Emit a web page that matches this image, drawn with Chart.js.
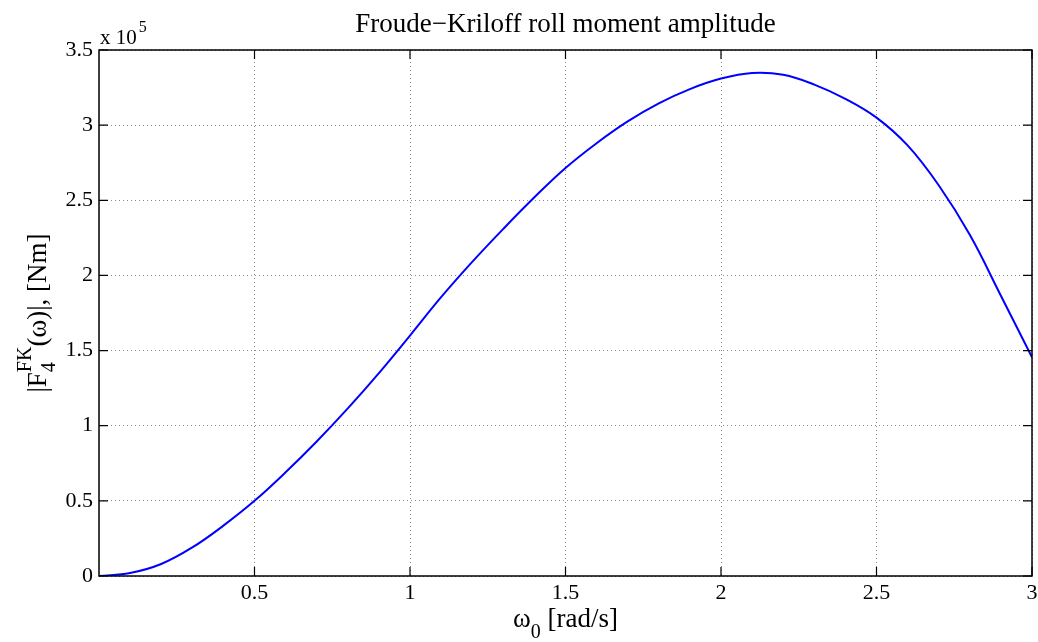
<!DOCTYPE html>
<html>
<head>
<meta charset="utf-8">
<title>Froude−Kriloff roll moment amplitude</title>
<script src="https://cdn.jsdelivr.net/npm/chart.js@4/dist/chart.umd.min.js"></script>
<style>
  html, body { margin: 0; padding: 0; background: #fff; }
  #wrap { width: 1038px; height: 642px; }
</style>
</head>
<body>
<div id="wrap"><canvas id="rollChart" width="1038" height="642"></canvas></div>
<script>
// wave frequency [rad/s]
const omega = [0, 0.1, 0.2, 0.3, 0.4, 0.5, 0.6, 0.7, 0.8, 0.9, 1.0,
  1.1, 1.2, 1.3, 1.4, 1.5, 1.6, 1.7, 1.8, 1.9, 2.0,
  2.1, 2.2, 2.3, 2.4, 2.5, 2.6, 2.7, 2.8, 2.9, 3.0];
// |F4^FK| in units of 1e5 Nm
const rollMoment = [0, 0.02, 0.08, 0.19, 0.335, 0.50, 0.69, 0.895, 1.115, 1.35, 1.60,
  1.855, 2.09, 2.31, 2.52, 2.715, 2.88, 3.025, 3.145, 3.24, 3.31,
  3.347, 3.335, 3.27, 3.175, 3.05, 2.865, 2.60, 2.27, 1.865, 1.455];
const xTicks = [0.5, 1, 1.5, 2, 2.5, 3];
const yTicks = [0, 0.5, 1, 1.5, 2, 2.5, 3, 3.5];
const yExponent = 5;

const serif = '"Liberation Serif", "DejaVu Serif", serif';

// box, inward ticks and all the labels in MATLAB style
const matlabFrame = {
  id: 'matlabFrame',
  afterDraw(chart) {
    const { ctx, chartArea: a, scales } = chart;
    const tl = 9;
    ctx.save();
    ctx.strokeStyle = '#000';
    ctx.lineWidth = 1.2;
    ctx.beginPath();
    xTicks.forEach(v => {
      const px = scales.x.getPixelForValue(v);
      ctx.moveTo(px, a.bottom); ctx.lineTo(px, a.bottom - tl);
      ctx.moveTo(px, a.top); ctx.lineTo(px, a.top + tl);
    });
    yTicks.forEach(v => {
      const py = scales.y.getPixelForValue(v);
      ctx.moveTo(a.left, py); ctx.lineTo(a.left + tl, py);
      ctx.moveTo(a.right, py); ctx.lineTo(a.right - tl, py);
    });
    ctx.stroke();
    ctx.lineWidth = 1.5;
    ctx.strokeRect(a.left, a.top, a.right - a.left, a.bottom - a.top);

    ctx.fillStyle = '#000';
    const cx = (a.left + a.right) / 2;

    // title
    ctx.font = '27px ' + serif;
    ctx.textAlign = 'center';
    ctx.textBaseline = 'alphabetic';
    ctx.fillText('Froude\u2212Kriloff roll moment amplitude', cx, a.top - 18);

    // exponent label
    ctx.textAlign = 'left';
    ctx.font = '21px ' + serif;
    ctx.fillText('x 10', a.left + 1, a.top - 6);
    const w10 = ctx.measureText('x 10').width;
    ctx.font = '16px ' + serif;
    ctx.fillText(String(yExponent), a.left + 1 + w10 + 2, a.top - 18);

    // x label: omega_0 [rad/s]
    const big = '27px ' + serif, small = '20px ' + serif;
    ctx.font = big;
    const wOm = ctx.measureText('\u03c9').width;
    const wRest = ctx.measureText(' [rad/s]').width;
    ctx.font = small;
    const wSub = ctx.measureText('0').width;
    let x0 = cx - (wOm + wSub + wRest) / 2;
    const by = a.bottom + 51;
    ctx.font = big; ctx.fillText('\u03c9', x0, by);
    ctx.font = small; ctx.fillText('0', x0 + wOm, by + 11);
    ctx.font = big; ctx.fillText(' [rad/s]', x0 + wOm + wSub, by);

    // y label: |F_4^FK(omega)|, [Nm]
    const cy = (a.top + a.bottom) / 2;
    ctx.translate(46, cy);
    ctx.rotate(-Math.PI / 2);
    ctx.font = big;
    const wA = ctx.measureText('|F').width;
    const wC = ctx.measureText('(\u03c9)|, [Nm]').width;
    ctx.font = small;
    const wSup = ctx.measureText('FK').width;
    const wS4 = ctx.measureText('4').width;
    const wB = Math.max(wSup, wS4);
    let s = -(wA + wB + wC) / 2;
    ctx.font = big; ctx.fillText('|F', s, 0);
    ctx.font = small;
    ctx.fillText('FK', s + wA, -15);
    ctx.fillText('4', s + wA, 9);
    ctx.font = big; ctx.fillText('(\u03c9)|, [Nm]', s + wA + wB, 0);
    ctx.restore();
  }
};

const gridCommon = {
  color: '#8a8a8a',
  lineWidth: 1,
  drawTicks: false
};

new Chart(document.getElementById('rollChart').getContext('2d'), {
  type: 'scatter',
  data: {
    datasets: [{
      data: omega.map((w, i) => ({ x: w, y: rollMoment[i] })),
      showLine: true,
      borderColor: '#0000ff',
      borderWidth: 2,
      pointRadius: 0,
      tension: 0.4,
      fill: false
    }]
  },
  options: {
    responsive: false,
    animation: false,
    layout: { padding: { top: 50, right: 6, left: 0, bottom: 0 } },
    plugins: {
      legend: { display: false },
      title: { display: false },
      tooltip: { enabled: false }
    },
    scales: {
      x: {
        type: 'linear',
        min: 0,
        max: 3,
        afterBuildTicks: sc => { sc.ticks = xTicks.map(v => ({ value: v })); },
        afterFit: sc => { sc.height = 66; sc.paddingLeft = 0; sc.paddingRight = 0; },
        grid: gridCommon,
        border: { display: false, dash: [1, 3] },
        ticks: {
          padding: 4,
          color: '#000',
          font: { family: serif, size: 22 },
          maxRotation: 0,
          callback: v => String(v)
        }
      },
      y: {
        min: 0,
        max: 3.5,
        afterBuildTicks: sc => { sc.ticks = yTicks.map(v => ({ value: v })); },
        afterFit: sc => { sc.width = 99; sc.paddingTop = 0; sc.paddingBottom = 0; },
        grid: gridCommon,
        border: { display: false, dash: [1, 3] },
        ticks: {
          padding: 6,
          color: '#000',
          font: { family: serif, size: 22 },
          callback: v => String(v)
        }
      }
    }
  },
  plugins: [matlabFrame]
});
</script>
</body>
</html>
